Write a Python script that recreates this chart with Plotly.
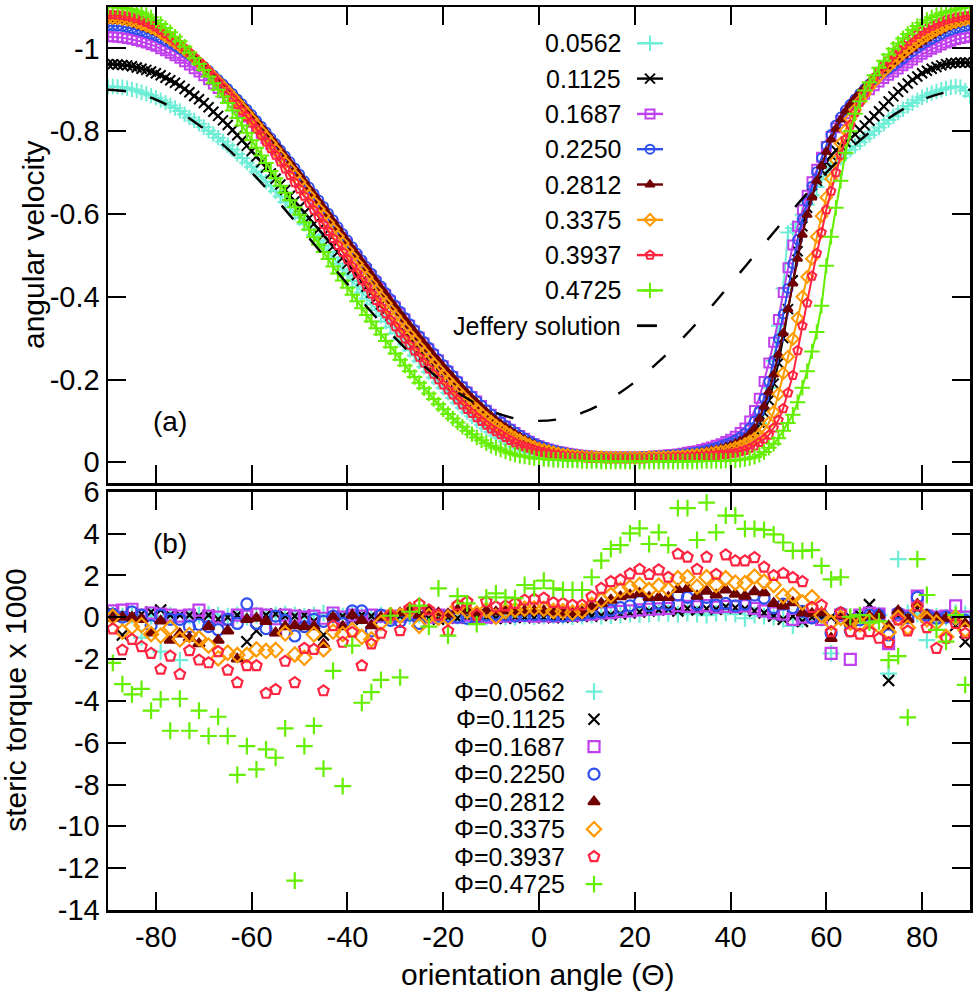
import plotly.graph_objects as go

# ---------------- data ----------------
THETA_TOP = list(range(-90, 91))          # orientation angle, top panel
THETA_BOT = list(range(-89, 90, 2))       # orientation angle, bottom panel
PHI = ["0.0562", "0.1125", "0.1687", "0.2250", "0.2812", "0.3375", "0.3937", "0.4725"]
X_TICKS = [-80, -60, -40, -20, 0, 20, 40, 60, 80]
Y1_TICKS = [0, -0.2, -0.4, -0.6, -0.8, -1]
Y1_TICKTEXT = ["0", "-0.2", "-0.4", "-0.6", "-0.8", "-1"]
Y2_TICKS = [-14, -12, -10, -8, -6, -4, -2, 0, 2, 4, 6]
Y2_TICKTEXT = ["-14", "-12", "-10", "-8", "-6", "-4", "-2", "0", "2", "4", "6"]

OMEGA_0562 = [
    -0.908, -0.908, -0.907, -0.906, -0.904, -0.901,
    -0.898, -0.894, -0.890, -0.886, -0.881,
    -0.875, -0.869, -0.862, -0.856, -0.849,
    -0.841, -0.833, -0.826, -0.818, -0.810,
    -0.801, -0.793, -0.784, -0.775, -0.766,
    -0.756, -0.745, -0.735, -0.724, -0.714,
    -0.702, -0.690, -0.678, -0.667, -0.655,
    -0.642, -0.629, -0.616, -0.603, -0.590,
    -0.576, -0.563, -0.549, -0.536, -0.522,
    -0.508, -0.494, -0.480, -0.466, -0.452,
    -0.438, -0.424, -0.410, -0.396, -0.382,
    -0.368, -0.354, -0.340, -0.326, -0.312,
    -0.298, -0.285, -0.271, -0.258, -0.244,
    -0.231, -0.218, -0.205, -0.193, -0.180,
    -0.168, -0.156, -0.144, -0.132, -0.121,
    -0.111, -0.101, -0.091, -0.082, -0.073,
    -0.065, -0.058, -0.050, -0.044, -0.038,
    -0.033, -0.028, -0.024, -0.021, -0.018,
    -0.016, -0.014, -0.012, -0.011, -0.010,
    -0.009, -0.008, -0.008, -0.007, -0.007,
    -0.007, -0.006, -0.006, -0.006, -0.006,
    -0.006, -0.006, -0.006, -0.006, -0.006,
    -0.006, -0.006, -0.006, -0.006, -0.006,
    -0.006, -0.006, -0.007, -0.007, -0.007,
    -0.008, -0.008, -0.009, -0.010, -0.011,
    -0.012, -0.014, -0.016, -0.019, -0.022,
    -0.027, -0.033, -0.041, -0.053, -0.070,
    -0.095, -0.130, -0.180, -0.245, -0.330,
    -0.420, -0.555, -0.566, -0.575, -0.598,
    -0.622, -0.645, -0.665, -0.683, -0.700,
    -0.713, -0.724, -0.735, -0.745, -0.755,
    -0.764, -0.773, -0.782, -0.791, -0.800,
    -0.809, -0.818, -0.827, -0.836, -0.845,
    -0.853, -0.861, -0.868, -0.875, -0.882,
    -0.887, -0.892, -0.896, -0.900, -0.903,
    -0.906, -0.908, -0.906, -0.898, -0.885,
]
OMEGA_1125 = [
    -0.962, -0.962, -0.961, -0.960, -0.959, -0.957,
    -0.954, -0.951, -0.948, -0.944, -0.940,
    -0.935, -0.929, -0.923, -0.917, -0.910,
    -0.902, -0.894, -0.885, -0.877, -0.868,
    -0.858, -0.847, -0.837, -0.826, -0.815,
    -0.803, -0.790, -0.778, -0.765, -0.752,
    -0.739, -0.725, -0.712, -0.698, -0.685,
    -0.671, -0.658, -0.644, -0.631, -0.617,
    -0.603, -0.590, -0.576, -0.563, -0.549,
    -0.535, -0.521, -0.508, -0.494, -0.480,
    -0.466, -0.452, -0.438, -0.424, -0.410,
    -0.396, -0.382, -0.368, -0.354, -0.340,
    -0.327, -0.313, -0.300, -0.286, -0.273,
    -0.260, -0.248, -0.235, -0.223, -0.210,
    -0.198, -0.186, -0.175, -0.163, -0.152,
    -0.141, -0.131, -0.121, -0.111, -0.101,
    -0.092, -0.084, -0.076, -0.068, -0.061,
    -0.055, -0.049, -0.043, -0.038, -0.034,
    -0.031, -0.028, -0.025, -0.022, -0.020,
    -0.019, -0.017, -0.016, -0.015, -0.014,
    -0.013, -0.013, -0.012, -0.012, -0.012,
    -0.012, -0.012, -0.012, -0.012, -0.012,
    -0.012, -0.012, -0.013, -0.013, -0.013,
    -0.014, -0.014, -0.015, -0.016, -0.017,
    -0.018, -0.019, -0.021, -0.023, -0.025,
    -0.027, -0.030, -0.033, -0.036, -0.040,
    -0.045, -0.050, -0.057, -0.066, -0.078,
    -0.096, -0.120, -0.150, -0.190, -0.240,
    -0.300, -0.370, -0.440, -0.510, -0.570,
    -0.615, -0.650, -0.680, -0.705, -0.725,
    -0.741, -0.754, -0.765, -0.774, -0.782,
    -0.792, -0.803, -0.814, -0.825, -0.836,
    -0.848, -0.860, -0.872, -0.884, -0.895,
    -0.905, -0.915, -0.924, -0.932, -0.940,
    -0.946, -0.951, -0.955, -0.959, -0.962,
    -0.964, -0.965, -0.966, -0.966, -0.965,
]
OMEGA_1687 = [
    -1.028, -1.028, -1.027, -1.026, -1.024, -1.022,
    -1.019, -1.016, -1.013, -1.009, -1.005,
    -0.999, -0.994, -0.988, -0.982, -0.976,
    -0.968, -0.960, -0.951, -0.943, -0.934,
    -0.924, -0.914, -0.903, -0.893, -0.882,
    -0.870, -0.858, -0.846, -0.834, -0.822,
    -0.809, -0.795, -0.782, -0.768, -0.754,
    -0.740, -0.725, -0.711, -0.696, -0.682,
    -0.667, -0.652, -0.636, -0.621, -0.606,
    -0.590, -0.575, -0.559, -0.544, -0.528,
    -0.512, -0.497, -0.481, -0.466, -0.450,
    -0.435, -0.420, -0.405, -0.390, -0.375,
    -0.360, -0.346, -0.331, -0.317, -0.302,
    -0.288, -0.274, -0.260, -0.247, -0.233,
    -0.220, -0.207, -0.194, -0.182, -0.170,
    -0.159, -0.148, -0.137, -0.126, -0.116,
    -0.106, -0.097, -0.088, -0.080, -0.072,
    -0.065, -0.058, -0.051, -0.045, -0.040,
    -0.036, -0.032, -0.029, -0.026, -0.024,
    -0.022, -0.020, -0.018, -0.017, -0.016,
    -0.015, -0.014, -0.014, -0.013, -0.013,
    -0.013, -0.013, -0.013, -0.013, -0.013,
    -0.013, -0.014, -0.014, -0.015, -0.016,
    -0.017, -0.018, -0.019, -0.020, -0.022,
    -0.024, -0.026, -0.028, -0.031, -0.034,
    -0.037, -0.041, -0.045, -0.050, -0.056,
    -0.063, -0.072, -0.083, -0.100, -0.125,
    -0.155, -0.195, -0.240, -0.290, -0.345,
    -0.410, -0.470, -0.525, -0.570, -0.610,
    -0.645, -0.678, -0.708, -0.737, -0.763,
    -0.787, -0.808, -0.826, -0.842, -0.855,
    -0.867, -0.878, -0.889, -0.900, -0.910,
    -0.919, -0.927, -0.935, -0.943, -0.950,
    -0.958, -0.965, -0.972, -0.979, -0.986,
    -0.992, -0.998, -1.003, -1.008, -1.013,
    -1.017, -1.021, -1.024, -1.026, -1.028,
]
OMEGA_2250 = [
    -1.055, -1.055, -1.054, -1.053, -1.051, -1.048,
    -1.045, -1.042, -1.038, -1.034, -1.030,
    -1.024, -1.018, -1.012, -1.006, -0.999,
    -0.991, -0.983, -0.974, -0.966, -0.957,
    -0.947, -0.936, -0.925, -0.914, -0.903,
    -0.891, -0.878, -0.866, -0.853, -0.840,
    -0.826, -0.812, -0.798, -0.784, -0.770,
    -0.755, -0.740, -0.726, -0.711, -0.696,
    -0.680, -0.665, -0.649, -0.634, -0.618,
    -0.602, -0.586, -0.569, -0.553, -0.537,
    -0.521, -0.505, -0.489, -0.473, -0.457,
    -0.441, -0.426, -0.410, -0.395, -0.380,
    -0.365, -0.350, -0.335, -0.321, -0.306,
    -0.292, -0.278, -0.264, -0.250, -0.236,
    -0.223, -0.210, -0.197, -0.184, -0.172,
    -0.160, -0.149, -0.138, -0.127, -0.117,
    -0.107, -0.098, -0.089, -0.081, -0.073,
    -0.066, -0.059, -0.052, -0.046, -0.041,
    -0.037, -0.033, -0.030, -0.027, -0.024,
    -0.022, -0.020, -0.019, -0.017, -0.016,
    -0.015, -0.014, -0.014, -0.013, -0.013,
    -0.013, -0.013, -0.013, -0.013, -0.013,
    -0.013, -0.014, -0.014, -0.015, -0.015,
    -0.016, -0.017, -0.018, -0.019, -0.020,
    -0.021, -0.023, -0.025, -0.027, -0.030,
    -0.033, -0.036, -0.040, -0.044, -0.048,
    -0.054, -0.061, -0.070, -0.083, -0.100,
    -0.123, -0.155, -0.195, -0.245, -0.298,
    -0.358, -0.420, -0.480, -0.538, -0.588,
    -0.630, -0.667, -0.702, -0.735, -0.765,
    -0.792, -0.815, -0.834, -0.851, -0.865,
    -0.878, -0.891, -0.903, -0.914, -0.924,
    -0.933, -0.942, -0.950, -0.958, -0.966,
    -0.975, -0.984, -0.992, -1.001, -1.009,
    -1.016, -1.022, -1.028, -1.034, -1.040,
    -1.044, -1.048, -1.051, -1.053, -1.055,
]
OMEGA_2812 = [
    -1.068, -1.068, -1.067, -1.066, -1.064, -1.061,
    -1.057, -1.053, -1.049, -1.045, -1.040,
    -1.034, -1.027, -1.019, -1.012, -1.004,
    -0.995, -0.986, -0.977, -0.968, -0.959,
    -0.948, -0.937, -0.926, -0.914, -0.903,
    -0.890, -0.878, -0.865, -0.852, -0.839,
    -0.825, -0.811, -0.797, -0.783, -0.769,
    -0.754, -0.739, -0.724, -0.709, -0.694,
    -0.678, -0.662, -0.647, -0.631, -0.615,
    -0.599, -0.582, -0.566, -0.549, -0.533,
    -0.517, -0.501, -0.485, -0.469, -0.453,
    -0.437, -0.421, -0.406, -0.390, -0.375,
    -0.360, -0.345, -0.330, -0.316, -0.301,
    -0.287, -0.273, -0.258, -0.245, -0.231,
    -0.218, -0.205, -0.192, -0.179, -0.167,
    -0.155, -0.144, -0.133, -0.122, -0.112,
    -0.102, -0.093, -0.085, -0.077, -0.069,
    -0.062, -0.055, -0.049, -0.043, -0.038,
    -0.034, -0.031, -0.028, -0.025, -0.022,
    -0.020, -0.019, -0.017, -0.016, -0.015,
    -0.014, -0.014, -0.013, -0.013, -0.013,
    -0.013, -0.013, -0.013, -0.013, -0.013,
    -0.013, -0.013, -0.014, -0.014, -0.014,
    -0.015, -0.015, -0.016, -0.017, -0.018,
    -0.019, -0.020, -0.022, -0.024, -0.026,
    -0.028, -0.030, -0.033, -0.036, -0.040,
    -0.045, -0.051, -0.058, -0.068, -0.082,
    -0.105, -0.135, -0.170, -0.212, -0.260,
    -0.312, -0.370, -0.432, -0.492, -0.550,
    -0.598, -0.640, -0.680, -0.716, -0.750,
    -0.780, -0.806, -0.828, -0.848, -0.865,
    -0.880, -0.893, -0.906, -0.918, -0.928,
    -0.938, -0.947, -0.956, -0.965, -0.974,
    -0.983, -0.992, -1.000, -1.008, -1.016,
    -1.024, -1.031, -1.038, -1.044, -1.050,
    -1.055, -1.059, -1.063, -1.066, -1.068,
]
OMEGA_3375 = [
    -1.074, -1.074, -1.073, -1.071, -1.069, -1.067,
    -1.063, -1.059, -1.055, -1.050, -1.045,
    -1.038, -1.030, -1.022, -1.014, -1.006,
    -0.997, -0.987, -0.977, -0.966, -0.956,
    -0.944, -0.932, -0.920, -0.908, -0.896,
    -0.883, -0.870, -0.856, -0.843, -0.829,
    -0.815, -0.800, -0.786, -0.771, -0.756,
    -0.740, -0.724, -0.709, -0.693, -0.677,
    -0.661, -0.645, -0.628, -0.612, -0.596,
    -0.579, -0.563, -0.546, -0.530, -0.513,
    -0.497, -0.480, -0.464, -0.447, -0.431,
    -0.415, -0.399, -0.384, -0.368, -0.353,
    -0.338, -0.323, -0.308, -0.294, -0.279,
    -0.265, -0.251, -0.238, -0.224, -0.211,
    -0.198, -0.186, -0.173, -0.161, -0.149,
    -0.138, -0.128, -0.117, -0.107, -0.098,
    -0.089, -0.081, -0.073, -0.066, -0.059,
    -0.053, -0.047, -0.042, -0.037, -0.033,
    -0.030, -0.027, -0.024, -0.021, -0.019,
    -0.018, -0.016, -0.015, -0.014, -0.013,
    -0.013, -0.012, -0.012, -0.011, -0.011,
    -0.011, -0.011, -0.011, -0.011, -0.011,
    -0.011, -0.011, -0.012, -0.012, -0.012,
    -0.013, -0.013, -0.014, -0.014, -0.015,
    -0.016, -0.017, -0.018, -0.019, -0.020,
    -0.022, -0.024, -0.026, -0.028, -0.031,
    -0.035, -0.039, -0.044, -0.050, -0.057,
    -0.066, -0.078, -0.095, -0.122, -0.165,
    -0.215, -0.255, -0.298, -0.348, -0.400,
    -0.448, -0.492, -0.545, -0.595, -0.640,
    -0.685, -0.730, -0.770, -0.802, -0.830,
    -0.852, -0.872, -0.890, -0.906, -0.920,
    -0.933, -0.945, -0.956, -0.967, -0.978,
    -0.988, -0.998, -1.007, -1.016, -1.024,
    -1.031, -1.038, -1.044, -1.050, -1.056,
    -1.060, -1.064, -1.067, -1.070, -1.072,
]
OMEGA_3937 = [
    -1.082, -1.082, -1.081, -1.080, -1.078, -1.076,
    -1.072, -1.068, -1.063, -1.058, -1.052,
    -1.044, -1.036, -1.028, -1.019, -1.010,
    -1.000, -0.990, -0.979, -0.968, -0.957,
    -0.944, -0.931, -0.918, -0.905, -0.892,
    -0.878, -0.864, -0.849, -0.835, -0.820,
    -0.805, -0.789, -0.774, -0.758, -0.742,
    -0.726, -0.709, -0.693, -0.676, -0.660,
    -0.643, -0.626, -0.609, -0.592, -0.575,
    -0.558, -0.541, -0.524, -0.507, -0.490,
    -0.473, -0.457, -0.440, -0.424, -0.407,
    -0.391, -0.375, -0.359, -0.344, -0.328,
    -0.313, -0.298, -0.283, -0.269, -0.254,
    -0.240, -0.226, -0.213, -0.200, -0.187,
    -0.175, -0.163, -0.151, -0.139, -0.128,
    -0.118, -0.108, -0.099, -0.090, -0.081,
    -0.074, -0.067, -0.060, -0.053, -0.047,
    -0.042, -0.038, -0.034, -0.030, -0.026,
    -0.024, -0.021, -0.019, -0.017, -0.015,
    -0.014, -0.013, -0.012, -0.012, -0.011,
    -0.011, -0.010, -0.010, -0.009, -0.009,
    -0.009, -0.009, -0.009, -0.009, -0.009,
    -0.009, -0.009, -0.010, -0.010, -0.010,
    -0.010, -0.011, -0.011, -0.012, -0.012,
    -0.013, -0.013, -0.014, -0.014, -0.015,
    -0.016, -0.017, -0.018, -0.019, -0.021,
    -0.023, -0.026, -0.029, -0.034, -0.040,
    -0.048, -0.056, -0.066, -0.083, -0.102,
    -0.130, -0.168, -0.210, -0.270, -0.330,
    -0.385, -0.450, -0.505, -0.555, -0.610,
    -0.655, -0.700, -0.742, -0.780, -0.815,
    -0.845, -0.870, -0.893, -0.913, -0.930,
    -0.945, -0.959, -0.972, -0.985, -0.998,
    -1.008, -1.017, -1.026, -1.034, -1.042,
    -1.048, -1.054, -1.059, -1.064, -1.069,
    -1.072, -1.075, -1.077, -1.079, -1.080,
]
OMEGA_4725 = [
    -1.100, -1.100, -1.099, -1.098, -1.096, -1.094,
    -1.090, -1.086, -1.081, -1.075, -1.068,
    -1.059, -1.049, -1.039, -1.028, -1.017,
    -1.004, -0.990, -0.976, -0.962, -0.948,
    -0.932, -0.916, -0.900, -0.884, -0.868,
    -0.850, -0.832, -0.814, -0.796, -0.778,
    -0.760, -0.741, -0.723, -0.704, -0.686,
    -0.668, -0.651, -0.633, -0.616, -0.598,
    -0.580, -0.562, -0.544, -0.526, -0.508,
    -0.491, -0.473, -0.456, -0.439, -0.422,
    -0.405, -0.389, -0.372, -0.356, -0.340,
    -0.324, -0.309, -0.293, -0.278, -0.263,
    -0.248, -0.234, -0.220, -0.206, -0.192,
    -0.179, -0.166, -0.153, -0.140, -0.128,
    -0.117, -0.106, -0.096, -0.086, -0.076,
    -0.068, -0.060, -0.053, -0.046, -0.040,
    -0.035, -0.031, -0.026, -0.022, -0.019,
    -0.016, -0.014, -0.012, -0.010, -0.009,
    -0.008, -0.007, -0.006, -0.006, -0.005,
    -0.005, -0.004, -0.004, -0.003, -0.003,
    -0.003, -0.003, -0.002, -0.002, -0.002,
    -0.002, -0.002, -0.002, -0.002, -0.002,
    -0.002, -0.002, -0.002, -0.002, -0.002,
    -0.002, -0.002, -0.002, -0.002, -0.002,
    -0.002, -0.002, -0.002, -0.003, -0.003,
    -0.003, -0.003, -0.003, -0.004, -0.004,
    -0.005, -0.006, -0.008, -0.010, -0.013,
    -0.018, -0.025, -0.035, -0.045, -0.058,
    -0.076, -0.095, -0.115, -0.145, -0.180,
    -0.220, -0.268, -0.315, -0.378, -0.475,
    -0.545, -0.615, -0.680, -0.748, -0.800,
    -0.842, -0.872, -0.898, -0.918, -0.935,
    -0.953, -0.970, -0.985, -0.999, -1.012,
    -1.024, -1.035, -1.045, -1.054, -1.062,
    -1.069, -1.075, -1.080, -1.084, -1.088,
    -1.091, -1.094, -1.097, -1.099, -1.100,
]

JEFFERY_THETA = list(range(-90, 91, 5))
JEFFERY_OMEGA = [
    -0.900, -0.894, -0.876, -0.846, -0.806, -0.757, -0.700, -0.637, -0.569, -0.500,
    -0.431, -0.363, -0.300, -0.243, -0.194, -0.154, -0.124, -0.106, -0.100,
    -0.106, -0.124, -0.154, -0.194, -0.243, -0.300, -0.363, -0.431, -0.500,
    -0.569, -0.637, -0.700, -0.757, -0.806, -0.846, -0.876, -0.894, -0.900,
]

TORQUE_0562 = [
    0.10, 0.05, 0.10, -0.98, 0.05,
    -1.65, 0.10, -2.05, 0.05, 0.10,
    0.15, 0.10, 0.05, 0.10, 0.00,
    0.10, 0.05, 0.10, 0.15, 0.10,
    0.05, 0.10, 0.20, 0.10, 0.05,
    0.10, 0.05, 0.00, 0.10, 0.05,
    0.00, 0.05, 0.10, 0.00, 0.05,
    0.00, 0.05, 0.00, 0.05, 0.00,
    0.05, 0.02, 0.00, 0.05, 0.03,
    0.05, 0.08, 0.05, 0.03, 0.05,
    0.10, 0.05, 0.08, 0.10, 0.15,
    0.12, 0.15, 0.20, 0.18, 0.15,
    0.20, 0.15, 0.10, 0.18, 0.20,
    0.15, -0.05, 0.10, 0.05, 0.00,
    -0.10, -0.42, -0.10, 0.05, -0.05,
    -1.73, 0.10, 0.00, 0.05, -0.05,
    0.10, -2.70, 2.78, 0.20, 0.15,
    -1.10, 0.05, 0.00, 0.20, 0.15,
]
TORQUE_1125 = [
    0.20, -0.85, 0.05, 0.15, 0.25,
    0.34, 0.10, 0.10, 0.10, 0.05,
    0.10, -0.10, 0.00, 0.10, -1.17,
    -0.65, 0.10, 0.15, 0.05, 0.05,
    0.10, -0.20, -0.85, 0.00, 0.05,
    -0.10, 0.10, 0.05, -0.05, 0.00,
    0.05, 0.00, 0.10, -0.05, -0.10,
    0.00, -0.05, 0.00, -0.05, 0.00,
    -0.05, -0.05, 0.00, 0.00, -0.02,
    0.00, -0.02, 0.00, 0.02, 0.05,
    0.05, 0.08, 0.12, 0.15, 0.20,
    0.25, 0.30, 0.35, 0.38, 0.30,
    0.42, 0.35, 0.40, 0.38, 0.50,
    0.45, 0.40, 0.30, 0.20, 0.05,
    -0.10, 0.05, -0.20, 0.00, -0.05,
    0.00, -0.10, 0.00, 0.10, 0.60,
    0.10, -3.03, 0.05, 0.00, 0.40,
    0.00, 0.05, -0.05, -0.40, -1.17,
]
TORQUE_1687 = [
    0.30, 0.34, 0.38, 0.10, 0.20,
    0.15, 0.10, 0.05, 0.10, 0.34,
    0.05, 0.00, -0.10, 0.10, 0.05,
    0.15, 0.10, -0.60, 0.10, 0.05,
    0.00, 0.05, -0.05, 0.20, 0.00,
    0.10, 0.05, 0.10, 0.05, 0.00,
    0.05, 0.20, 0.15, 0.00, 0.10,
    0.05, 0.00, 0.10, 0.05, 0.00,
    0.05, 0.05, 0.10, 0.08, 0.05,
    0.06, 0.05, 0.08, 0.10, 0.12,
    0.15, 0.20, 0.22, 0.28, 0.30,
    0.35, 0.38, 0.40, 0.42, 0.55,
    0.52, 0.50, 0.55, 0.48, 0.52,
    0.50, 0.55, 0.42, 0.30, 0.20,
    0.15, -0.10, 0.00, 0.05, -0.10,
    -1.73, 0.10, -2.02, 0.10, 0.20,
    0.15, -1.26, 0.10, 0.05, 1.01,
    0.05, 0.00, 0.05, 0.54, 0.00,
]
TORQUE_2250 = [
    0.15, 0.00, 0.25, 0.10, -0.40,
    0.10, -0.10, -0.10, -0.45, -0.35,
    -0.45, -0.60, -0.10, -0.30, 0.64,
    -0.30, -0.55, 0.05, -0.15, -0.90,
    -0.45, -0.10, -0.20, 0.05, -0.30,
    0.30, 0.30, -0.65, 0.10, -0.15,
    -0.20, 0.10, -0.30, 0.10, 0.05,
    0.05, 0.00, -0.05, 0.05, 0.10,
    0.15, 0.10, 0.05, 0.10, 0.12,
    0.10, 0.08, 0.05, 0.10, 0.12,
    0.20, 0.25, 0.34, 0.46, 0.54,
    0.74, 0.54, 0.66, 0.62, 1.06,
    0.95, 0.62, 0.95, 0.58, 0.66,
    0.54, 0.62, 1.06, 0.91, 0.46,
    0.62, 0.46, 0.28, -0.03, 0.14,
    -0.77, 0.20, -0.65, -0.13, 0.10,
    0.10, -0.85, 0.20, -0.03, 0.95,
    0.10, -0.05, 0.00, -0.05, -0.15,
]
TORQUE_2812 = [
    -0.05, 0.00, 0.00, -0.10, -0.75,
    -0.18, -1.10, -0.80, -1.00, -1.27,
    -0.45, -1.10, -0.65, -2.00, -0.10,
    -0.05, -0.20, -0.75, -0.45, -0.40,
    -0.45, -0.45, -1.30, 0.00, -0.45,
    0.10, -0.15, -0.40, 0.00, 0.05,
    0.20, 0.40, 0.10, 0.30, 0.20,
    0.15, 0.35, 0.30, 0.20, 0.30,
    0.25, 0.30, 0.25, 0.30, 0.32,
    0.30, 0.25, 0.22, 0.20, 0.25,
    0.50, 0.66, 0.82, 0.98, 1.06,
    1.14, 0.95, 0.95, 0.95, 1.33,
    1.38, 1.01, 1.25, 1.06, 1.30,
    1.10, 1.01, 1.22, 1.17, 0.66,
    0.54, 0.70, 0.20, 0.17, 0.22,
    -1.01, 0.06, -0.30, -0.10, 0.05,
    0.10, -0.42, 0.30, -0.10, 0.62,
    0.10, 0.00, -0.05, -0.10, -0.30,
]
TORQUE_3375 = [
    0.02, -0.69, -0.46, -0.38, -0.81,
    -0.88, -0.50, -1.06, -0.85, -1.01,
    -1.36, -1.97, -1.70, -1.81, -1.81,
    -1.54, -1.62, -1.57, -0.77, -1.78,
    -1.94, -0.82, -1.54, -0.69, -0.81,
    -0.62, -0.94, -1.06, -0.27, 0.10,
    0.07, 0.34, -0.41, 0.05, -0.03,
    -0.03, 0.50, 0.30, 0.18, 0.34,
    0.02, 0.30, 0.35, 0.40, 0.42,
    0.40, 0.30, 0.28, 0.22, 0.30,
    0.58, 0.82, 1.06, 1.30, 1.43,
    1.54, 1.30, 1.51, 1.33, 1.86,
    1.91, 1.46, 1.91, 1.54, 1.86,
    1.65, 1.62, 1.94, 1.70, 1.54,
    1.01, 1.06, 0.70, 0.95, 0.10,
    -0.26, -0.03, -0.26, -0.34, -0.18,
    -0.42, -0.72, -0.03, -0.50, 0.30,
    -0.10, -0.26, -0.94, 0.00, -0.60,
]
TORQUE_3937 = [
    -0.56, -1.57, -1.06, -1.41, -1.73,
    -2.49, -1.86, -2.73, -1.60, -2.05,
    -2.18, -1.65, -2.53, -3.13, -2.32,
    -2.32, -3.64, -3.46, -2.11, -3.13,
    -1.49, -1.54, -3.52, -0.41, -1.20,
    -0.72, -2.32, -1.28, -0.77, 0.10,
    -0.64, 0.42, 0.63, 0.35, 0.10,
    -0.65, 0.58, 0.74, 0.10, 0.74,
    0.50, 0.54, 0.66, 0.82, 0.86,
    0.91, 0.70, 0.66, 0.58, 0.58,
    0.98, 1.38, 1.70, 1.78, 2.07,
    2.29, 2.04, 2.26, 1.91, 3.02,
    2.87, 2.29, 2.87, 2.05, 2.98,
    2.69, 2.69, 2.85, 2.39, 1.99,
    2.10, 1.89, 1.70, 0.47, 0.58,
    -0.69, 0.22, -0.69, -0.81, -0.69,
    -1.01, -1.22, -0.13, -0.66, 0.54,
    -0.50, -1.49, -1.01, -0.30, -0.77,
]
TORQUE_4725 = [
    -2.18, -3.20, -3.69, -3.43, -4.47,
    -3.93, -5.43, -3.90, -5.43, -4.47,
    -5.68, -4.76, -5.68, -7.54, -6.16,
    -7.28, -6.32, -6.72, -5.32, -12.60,
    -6.16, -5.20, -7.24, -2.57, -8.08,
    -1.36, -4.09, -3.58, -3.00, 0.07,
    -2.88, 0.26, 0.55, -0.45, 1.38,
    -0.88, 1.01, 0.66, -0.33, 0.95,
    1.14, 0.95, 0.91, 1.54, 1.38,
    1.75, 1.38, 1.30, 1.30, 1.30,
    1.91, 2.70, 3.26, 3.45, 4.01,
    4.25, 3.50, 4.06, 3.45, 5.21,
    5.21, 3.69, 5.48, 4.06, 4.86,
    4.86, 4.22, 4.22, 4.17, 3.96,
    3.57, 3.17, 3.17, 3.21, 2.45,
    1.81, 1.91, 0.02, 0.10, -0.26,
    -0.20, -2.05, -1.86, -4.79, 2.78,
    1.06, -0.61, -1.17, 0.10, -3.24,
]

OMEGA = [OMEGA_0562, OMEGA_1125, OMEGA_1687, OMEGA_2250,
         OMEGA_2812, OMEGA_3375, OMEGA_3937, OMEGA_4725]
TORQUE = [TORQUE_0562, TORQUE_1125, TORQUE_1687, TORQUE_2250,
          TORQUE_2812, TORQUE_3375, TORQUE_3937, TORQUE_4725]
for s in OMEGA:
    assert len(s) == len(THETA_TOP), len(s)
for s in TORQUE:
    assert len(s) == len(THETA_BOT), len(s)
assert len(JEFFERY_OMEGA) == len(JEFFERY_THETA)

# ---------------- styles ----------------
COLORS = ["#6eeed6", "#000000", "#c040ee", "#2f50ee", "#700000",
          "#ff9a00", "#ff2440", "#64ee00"]
SYMBOLS = ["cross-thin-open", "x-thin-open", "square-open", "circle-open",
           "triangle-up", "diamond-open", "pentagon-open", "cross-thin-open"]
TOP_SIZES = [11, 10, 9, 9, 8, 9, 9, 11]
BOT_SIZES = [12, 11, 11, 11, 10, 11, 11, 12]
FONT = "Liberation Sans, Arial, Helvetica, sans-serif"

W, H = 975, 994
PL, PR, PT, PB = 108, 970, 7, 910          # plot area in pixels
TOP_BOTTOM_PX, BOT_TOP_PX = 483, 491.7      # panel edges in pixels
X_RANGE = [-90, 90]
Y1_RANGE = [0.05, -1.10]
Y2_RANGE = [-14, 6]


def paper_x(px):
    return (px - PL) / (PR - PL)


def paper_y(py):
    return (PB - py) / (PB - PT)


Y1_DOMAIN = [paper_y(TOP_BOTTOM_PX), 1.0]
Y2_DOMAIN = [0.0, paper_y(BOT_TOP_PX)]


def data_x(px):
    return X_RANGE[0] + paper_x(px) * (X_RANGE[1] - X_RANGE[0])


def data_y(py, dom, rng):
    f = (paper_y(py) - dom[0]) / (dom[1] - dom[0])
    return rng[0] + f * (rng[1] - rng[0])


fig = go.Figure()

# top panel: angular velocity
for i in range(8):
    fig.add_trace(go.Scatter(
        x=THETA_TOP, y=OMEGA[i], mode="lines+markers",
        line=dict(color=COLORS[i], width=2),
        marker=dict(symbol=SYMBOLS[i], size=TOP_SIZES[i], color=COLORS[i],
                    line=dict(color=COLORS[i], width=2)),
        xaxis="x", yaxis="y", showlegend=False, name=PHI[i]))
fig.add_trace(go.Scatter(
    x=JEFFERY_THETA, y=JEFFERY_OMEGA, mode="lines",
    line=dict(color="black", width=2.4, dash="18px,25px", shape="spline"),
    xaxis="x", yaxis="y", showlegend=False, name="Jeffery solution"))

# bottom panel: steric torque
for i in range(8):
    fig.add_trace(go.Scatter(
        x=THETA_BOT, y=TORQUE[i], mode="markers",
        marker=dict(symbol=SYMBOLS[i], size=BOT_SIZES[i], color=COLORS[i],
                    line=dict(color=COLORS[i], width=2.2)),
        xaxis="x2", yaxis="y2", showlegend=False, name="Φ=" + PHI[i]))

# ---------------- custom legends (text left, key right) ----------------
annotations = []
shapes = []
TOP_ROWS = [43.3, 78.6, 113.9, 149.2, 184.5, 219.8, 255.1, 290.4, 325.7]
TOP_TEXT_X, TOP_KEY_X0, TOP_KEY_X1 = 623, 637, 663
for i in range(9):
    label = PHI[i] if i < 8 else "Jeffery solution"
    annotations.append(dict(
        x=paper_x(TOP_TEXT_X), y=paper_y(TOP_ROWS[i]), xref="paper", yref="paper",
        text=label, showarrow=False, xanchor="right", yanchor="middle",
        font=dict(family=FONT, size=25, color="black")))
    color = COLORS[i] if i < 8 else "black"
    x1 = TOP_KEY_X1 if i < 8 else 657
    shapes.append(dict(type="line", xref="paper", yref="paper",
                       x0=paper_x(TOP_KEY_X0), x1=paper_x(x1),
                       y0=paper_y(TOP_ROWS[i]), y1=paper_y(TOP_ROWS[i]),
                       line=dict(color=color, width=2.4 if i < 8 else 2.8)))
    if i < 8:
        fig.add_trace(go.Scatter(
            x=[data_x((TOP_KEY_X0 + TOP_KEY_X1) / 2)],
            y=[data_y(TOP_ROWS[i], Y1_DOMAIN, Y1_RANGE)], mode="markers",
            marker=dict(symbol=SYMBOLS[i], size=TOP_SIZES[i], color=COLORS[i],
                        line=dict(color=COLORS[i], width=2)),
            xaxis="x", yaxis="y", showlegend=False, hoverinfo="skip"))

BOT_ROWS = [691.7 + 27.5 * k for k in range(8)]
BOT_TEXT_X, BOT_KEY_X = 567, 594
for i in range(8):
    annotations.append(dict(
        x=paper_x(BOT_TEXT_X), y=paper_y(BOT_ROWS[i]), xref="paper", yref="paper",
        text="Φ=" + PHI[i], showarrow=False, xanchor="right", yanchor="middle",
        font=dict(family=FONT, size=25, color="black")))
    fig.add_trace(go.Scatter(
        x=[data_x(BOT_KEY_X)], y=[data_y(BOT_ROWS[i], Y2_DOMAIN, Y2_RANGE)],
        mode="markers",
        marker=dict(symbol=SYMBOLS[i], size=BOT_SIZES[i], color=COLORS[i],
                    line=dict(color=COLORS[i], width=2.2)),
        xaxis="x2", yaxis="y2", showlegend=False, hoverinfo="skip"))

# panel labels and axis titles
annotations += [
    dict(x=paper_x(170), y=paper_y(421.7), xref="paper", yref="paper", text="(a)",
         showarrow=False, xanchor="center", yanchor="middle",
         font=dict(family=FONT, size=28, color="black")),
    dict(x=paper_x(170), y=paper_y(543), xref="paper", yref="paper", text="(b)",
         showarrow=False, xanchor="center", yanchor="middle",
         font=dict(family=FONT, size=28, color="black")),
    dict(x=paper_x(33), y=paper_y(245), xref="paper", yref="paper",
         text="angular velocity", textangle=-90, showarrow=False,
         xanchor="center", yanchor="middle",
         font=dict(family=FONT, size=30, color="black")),
    dict(x=paper_x(16), y=paper_y(700.8), xref="paper", yref="paper",
         text="steric torque x 1000", textangle=-90, showarrow=False,
         xanchor="center", yanchor="middle",
         font=dict(family=FONT, size=30, color="black")),
    dict(x=paper_x(538), y=paper_y(974), xref="paper", yref="paper",
         text="orientation angle (Θ)", showarrow=False,
         xanchor="center", yanchor="middle",
         font=dict(family=FONT, size=30, color="black")),
]

axis_common = dict(showline=True, linecolor="black", linewidth=2.5, mirror="ticks",
                   ticks="inside", ticklen=18, tickwidth=2, tickcolor="black",
                   showgrid=False, zeroline=False, automargin=False,
                   tickfont=dict(family=FONT, size=29, color="black"))

fig.update_layout(
    width=W, height=H,
    margin=dict(l=PL, r=W - PR, t=PT, b=H - PB, pad=0, autoexpand=False),
    paper_bgcolor="white", plot_bgcolor="white",
    showlegend=False,
    xaxis=dict(domain=[0, 1], anchor="y", range=X_RANGE, tickvals=X_TICKS,
               showticklabels=False, **axis_common),
    yaxis=dict(domain=Y1_DOMAIN, anchor="x", range=Y1_RANGE, tickvals=Y1_TICKS,
               ticktext=Y1_TICKTEXT, **axis_common),
    xaxis2=dict(domain=[0, 1], anchor="y2", range=X_RANGE, tickvals=X_TICKS,
                ticktext=[str(v) for v in X_TICKS], **axis_common),
    yaxis2=dict(domain=Y2_DOMAIN, anchor="x2", range=Y2_RANGE, tickvals=Y2_TICKS,
                ticktext=Y2_TICKTEXT, **axis_common),
    annotations=annotations,
    shapes=shapes,
)

# remove the browser's default page margin so the 975x994 figure fills the window
PAGE_FIX = ("document.body.style.margin='0';document.body.style.padding='0';"
            "document.body.style.overflow='hidden';")
fig.write_html("out.html", post_script=PAGE_FIX,
               config={"displayModeBar": False, "staticPlot": True})
